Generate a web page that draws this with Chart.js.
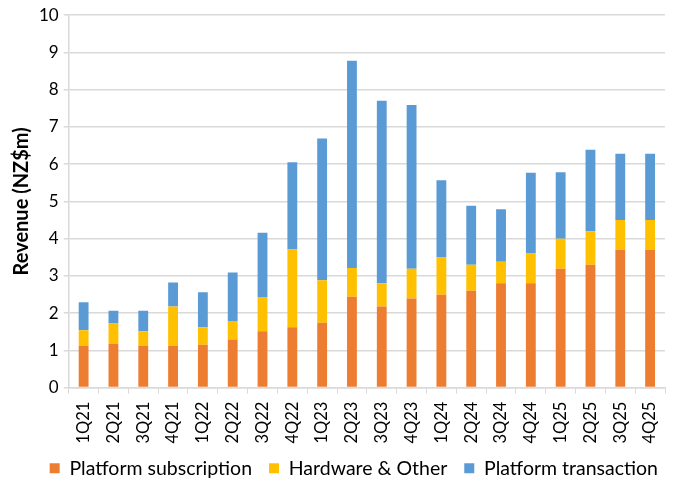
<!DOCTYPE html>
<html>
<head>
<meta charset="utf-8">
<script src="https://cdn.jsdelivr.net/npm/chart.js@4/dist/chart.umd.min.js"></script>
<style>
  html, body { margin: 0; padding: 0; background: #ffffff; }
  #wrap { width: 680px; height: 488px; }
</style>
</head>
<body>
<div id="wrap"><canvas id="chart" width="680" height="488"></canvas></div>
<script>
// Quarterly revenue by stream (NZ$m)
const quarters = ["1Q21","2Q21","3Q21","4Q21","1Q22","2Q22","3Q22","4Q22","1Q23","2Q23",
                  "3Q23","4Q23","1Q24","2Q24","3Q24","4Q24","1Q25","2Q25","3Q25","4Q25"];
const platformSubscription = [1.12,1.17,1.12,1.12,1.15,1.29,1.51,1.62,1.74,2.44,
                              2.18,2.39,2.49,2.60,2.80,2.80,3.19,3.30,3.70,3.70];
const hardwareOther        = [0.42,0.55,0.39,1.06,0.47,0.50,0.92,2.09,1.14,0.77,
                              0.62,0.80,1.00,0.70,0.58,0.80,0.81,0.90,0.80,0.80];
const platformTransaction  = [0.75,0.34,0.55,0.64,0.94,1.30,1.73,2.34,3.81,5.57,
                              4.90,4.40,2.08,1.58,1.41,2.17,1.78,2.19,1.78,1.78];
const yTicks = [0,1,2,3,4,5,6,7,8,9,10];

const FONT = "Lato, 'Liberation Sans', sans-serif";
const TEXT = "#000000";

new Chart(document.getElementById("chart"), {
  type: "bar",
  data: {
    labels: quarters,
    datasets: [
      { label: "Platform subscription", data: platformSubscription, backgroundColor: "#ED7D31" },
      { label: "Hardware & Other",      data: hardwareOther,        backgroundColor: "#FFC000" },
      { label: "Platform transaction",  data: platformTransaction,  backgroundColor: "#5B9BD5" }
    ]
  },
  options: {
    responsive: false,
    animation: false,
    layout: { padding: { left: 10, right: 15, top: 5, bottom: 0 } },
    datasets: { bar: { barPercentage: 0.33, categoryPercentage: 1.0, borderWidth: 0 } },
    plugins: {
      tooltip: { enabled: false },
      legend: {
        position: "bottom",
        align: "end",
        labels: {
          color: TEXT,
          font: { family: FONT, size: 19.5 },
          boxWidth: 10, boxHeight: 10,
          padding: 7,
          // widen the spacing between legend entries
          generateLabels: (chart) => {
            const items = Chart.defaults.plugins.legend.labels.generateLabels(chart);
            items.forEach((it, i) => { if (i < items.length - 1) it.text += "  "; });
            return items;
          }
        }
      }
    },
    scales: {
      x: {
        stacked: true,
        grid: { display: true, drawOnChartArea: false, drawTicks: true, tickLength: 6, color: "#d9d9d9", offset: true },
        border: { color: "#d9d9d9", width: 1.5 },
        ticks: {
          color: TEXT, font: { family: FONT, size: 16.5 },
          minRotation: 90, maxRotation: 90, autoSkip: false, padding: 8
        }
      },
      y: {
        stacked: true,
        min: 0, max: 10,
        afterBuildTicks: (axis) => { axis.ticks = yTicks.map(v => ({ value: v })); },
        grid: { color: "#d9d9d9", lineWidth: 1.5, drawTicks: true, tickLength: 5 },
        border: { color: "#d9d9d9", width: 1.5 },
        ticks: { color: TEXT, font: { family: FONT, size: 17 }, padding: 5 },
        title: {
          display: true, text: "Revenue (NZ$m)", color: TEXT,
          font: { family: FONT, size: 20, weight: "bold" }, padding: { top: 0, bottom: 0 }
        }
      }
    }
  }
});
</script>
</body>
</html>
